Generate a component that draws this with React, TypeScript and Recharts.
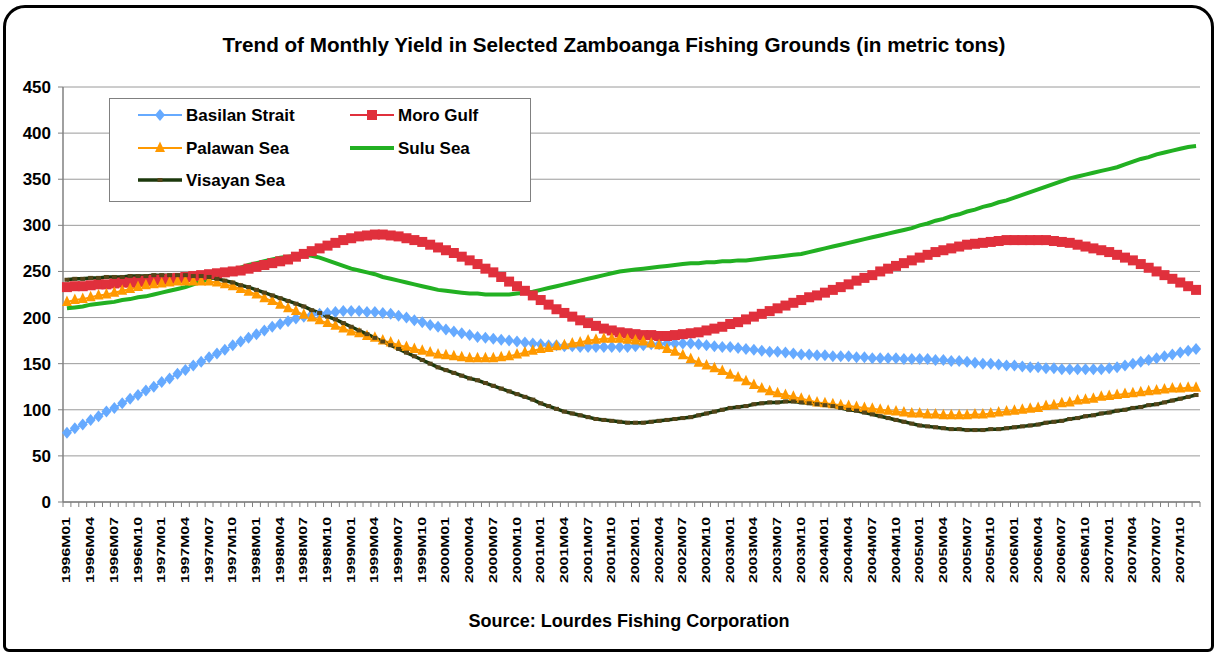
import React from 'react';
import { LineChart, Line, XAxis, YAxis, CartesianGrid } from 'recharts';

const FONT = '"Liberation Sans", Arial, sans-serif';

const years = [1996, 1997, 1998, 1999, 2000, 2001, 2002, 2003, 2004, 2005, 2006, 2007];
const months = ['01', '02', '03', '04', '05', '06', '07', '08', '09', '10', '11', '12'];
const categories = years.flatMap((y) => months.map((m) => `${y}M${m}`));

const yTicks = [0, 50, 100, 150, 200, 250, 300, 350, 400, 450];

// monthly yield, metric tons
const basilanStrait = [
  75, 80, 84, 89, 93, 98, 102, 107, 112, 116, 121, 125,
  130, 134, 139, 143, 148, 152, 157, 161, 165, 170, 174, 178,
  182, 186, 190, 193, 196, 199, 201, 203, 204, 205, 206, 207,
  207, 207, 206, 206, 205, 204, 202, 200, 197, 195, 192, 190,
  187, 185, 183, 181, 179, 178, 177, 176, 175, 174, 173, 172,
  171, 170, 170, 169, 169, 168, 168, 168, 168, 168, 168, 168,
  169, 170, 171, 171, 172, 172, 172, 172, 171, 170, 169, 168,
  168, 167, 166, 165, 164, 163, 163, 162, 161, 160, 160, 159,
  159, 158, 158, 158, 157, 157, 156, 156, 156, 156, 155, 155,
  155, 155, 154, 154, 153, 153, 152, 151, 150, 150, 149, 148,
  148, 147, 146, 146, 145, 145, 144, 144, 144, 144, 144, 144,
  145, 146, 148, 150, 152, 154, 156, 158, 160, 162, 164, 166,
];

const moroGulf = [
  233, 234, 234, 235, 236, 236, 237, 238, 238, 239, 240, 241,
  241, 242, 243, 244, 245, 246, 247, 248, 249, 250, 251, 253,
  255, 257, 259, 261, 263, 266, 269, 272, 275, 278, 281, 284,
  286, 288, 289, 290, 290, 289, 288, 286, 284, 282, 279, 276,
  273, 270, 266, 262, 258, 253, 249, 244, 239, 234, 229, 224,
  219, 214, 209, 205, 201, 197, 194, 191, 188, 186, 184, 183,
  182, 181, 181, 180, 180, 181, 182, 183, 184, 186, 188, 190,
  193, 195, 198, 201, 204, 207, 210, 213, 216, 219, 222, 224,
  227, 230, 233, 236, 240, 243, 246, 250, 253, 256, 259, 262,
  265, 268, 271, 273, 275, 277, 279, 280, 281, 282, 283, 284,
  284, 284, 284, 284, 284, 283, 282, 281, 279, 277, 275, 273,
  271, 268, 265, 262, 258, 254, 250, 246, 242, 238, 234, 230,
];

const palawanSea = [
  217, 219, 220, 222, 224, 225, 227, 229, 231, 233, 235, 236,
  237, 238, 239, 239, 239, 239, 239, 238, 236, 234, 231, 228,
  225, 221, 218, 214, 210, 207, 203, 200, 197, 194, 191, 188,
  185, 183, 180, 178, 175, 173, 170, 168, 166, 164, 162, 160,
  159, 158, 157, 156, 156, 156, 156, 157, 158, 160, 162, 164,
  166, 167, 169, 170, 172, 173, 175, 176, 177, 177, 177, 176,
  175, 174, 172, 170, 166, 163, 159, 155, 151, 148, 145, 142,
  138, 135, 131, 127, 123, 120, 118, 116, 114, 112, 110, 108,
  107, 106, 105, 104, 103, 102, 101, 100, 99, 98, 97, 96,
  96, 95, 95, 94, 94, 94, 94, 95, 95, 96, 97, 98,
  99, 100, 101, 102, 104, 105, 107, 108, 110, 111, 112, 114,
  115, 116, 117, 118, 119, 120, 121, 122, 123, 123, 124, 124,
];

const suluSea = [
  210, 211, 212, 214, 215, 216, 217, 219, 220, 222, 223, 225,
  227, 229, 231, 233, 236, 239, 242, 245, 248, 251, 254, 257,
  259, 261, 263, 265, 266, 267, 268, 267, 265, 262, 259, 256,
  253, 251, 249, 247, 244, 242, 240, 238, 236, 234, 232, 230,
  229, 228, 227, 226, 226, 225, 225, 225, 225, 226, 227, 228,
  230, 232, 234, 236, 238, 240, 242, 244, 246, 248, 250, 251,
  252, 253, 254, 255, 256, 257, 258, 259, 259, 260, 260, 261,
  261, 262, 262, 263, 264, 265, 266, 267, 268, 269, 271, 273,
  275, 277, 279, 281, 283, 285, 287, 289, 291, 293, 295, 297,
  300, 302, 305, 307, 310, 312, 315, 317, 320, 322, 325, 327,
  330, 333, 336, 339, 342, 345, 348, 351, 353, 355, 357, 359,
  361, 363, 366, 369, 372, 374, 377, 379, 381, 383, 385, 386,
];

const visayanSea = [
  241, 242, 242, 243, 243, 244, 244, 244, 245, 245, 245, 246,
  246, 246, 246, 246, 245, 245, 244, 242, 240, 238, 235, 233,
  230, 227, 224, 221, 218, 215, 212, 208, 205, 201, 198, 194,
  190, 186, 182, 178, 174, 170, 166, 162, 158, 154, 150, 146,
  143, 140, 137, 134, 132, 129, 126, 123, 120, 117, 114, 111,
  107, 104, 101, 98, 96, 94, 92, 90, 89, 88, 87, 86,
  86, 86, 87, 88, 89, 90, 91, 92, 94, 96, 98, 100,
  102, 103, 104, 106, 107, 108, 108, 109, 109, 108, 107, 106,
  105, 104, 102, 100, 99, 97, 95, 93, 91, 89, 87, 85,
  83, 82, 81, 80, 79, 79, 78, 78, 78, 79, 79, 80,
  81, 82, 83, 84, 86, 87, 88, 90, 91, 93, 94, 96,
  97, 99, 100, 102, 103, 105, 106, 108, 110, 112, 114, 116,
];

const COLORS = {
  basilan: '#66aaff',
  moro: '#e0303c',
  palawan: '#ff9900',
  sulu: '#22b022',
  visayan: '#1c380c',
  visayanDash: '#55461a',
};

const data = categories.map((month, i) => ({
  month,
  basilan: basilanStrait[i],
  moro: moroGulf[i],
  palawan: palawanSea[i],
  sulu: suluSea[i],
  visayan: visayanSea[i],
}));

const HALF_STEP = 3.95;

const diamond = (cx: number, cy: number, fill: string, key?: string) => (
  <polygon
    key={key}
    points={`${cx},${cy - 6} ${cx + 5},${cy} ${cx},${cy + 6} ${cx - 5},${cy}`}
    fill={fill}
  />
);
const square = (cx: number, cy: number, fill: string, key?: string) => (
  <rect key={key} x={cx - 5} y={cy - 5} width={10} height={10} fill={fill} />
);
const triangle = (cx: number, cy: number, fill: string, key?: string) => (
  <polygon
    key={key}
    points={`${cx},${cy - 6.5} ${cx + 5},${cy + 4} ${cx - 5},${cy + 4}`}
    fill={fill}
  />
);
const dash = (cx: number, cy: number, fill: string, key?: string) => (
  <rect key={key} x={cx - 2.5} y={cy - 2} width={5} height={4} fill={fill} />
);

const MonthTick = (props: any) => {
  const { x, y, payload, index } = props;
  const top = y + 15;
  return (
    <g>
      <line x1={x - HALF_STEP} y1={y} x2={x - HALF_STEP} y2={y + 5} stroke="#808080" />
      {index === categories.length - 1 && (
        <line x1={x + HALF_STEP} y1={y} x2={x + HALF_STEP} y2={y + 5} stroke="#808080" />
      )}
      {index % 3 === 0 && (
        <text
          x={x + 3.5}
          y={top}
          transform={`rotate(-90 ${x + 3.5} ${top})`}
          textAnchor="end"
          textLength={66}
          lengthAdjust="spacingAndGlyphs"
          fontSize={10}
          fontWeight={700}
          fontFamily={FONT}
          fill="#000"
        >
          {payload.value}
        </text>
      )}
    </g>
  );
};

const legendItems = [
  { name: 'Basilan Strait', color: COLORS.basilan, marker: diamond, col: 0, row: 0, width: 2 },
  { name: 'Moro Gulf', color: COLORS.moro, marker: square, col: 1, row: 0, width: 2 },
  { name: 'Palawan Sea', color: COLORS.palawan, marker: triangle, col: 0, row: 1, width: 2 },
  { name: 'Sulu Sea', color: COLORS.sulu, marker: null, col: 1, row: 1, width: 4 },
  { name: 'Visayan Sea', color: COLORS.visayan, marker: dash, col: 0, row: 2, width: 3.5 },
];

function Overlay() {
  const colX = [138, 350];
  const rowY = [115, 148, 180];
  return (
    <svg
      width={1217}
      height={656}
      style={{ position: 'absolute', left: 0, top: 0, pointerEvents: 'none' }}
    >
      <text
        x={614}
        y={52}
        textAnchor="middle"
        fontSize={20}
        fontWeight={700}
        fontFamily={FONT}
        textLength={783}
        lengthAdjust="spacingAndGlyphs"
        fill="#000"
      >
        Trend of Monthly Yield in Selected Zamboanga Fishing Grounds (in metric tons)
      </text>
      <text
        x={629}
        y={627}
        textAnchor="middle"
        fontSize={18}
        fontWeight={700}
        fontFamily={FONT}
        textLength={321}
        lengthAdjust="spacingAndGlyphs"
        fill="#000"
      >
        Source:  Lourdes Fishing Corporation
      </text>
      <rect x={109.5} y={98.5} width={421} height={103} fill="#fff" stroke="#808080" />
      {legendItems.map((it) => {
        const x0 = colX[it.col];
        const y0 = rowY[it.row];
        return (
          <g key={it.name}>
            <line x1={x0} y1={y0} x2={x0 + 44} y2={y0} stroke={it.color} strokeWidth={it.width} />
            {it.marker &&
              it.marker(
                x0 + 22,
                y0,
                it.name === 'Visayan Sea' ? COLORS.visayanDash : it.color,
              )}
            <text
              x={x0 + 48}
              y={y0 + 6}
              fontSize={17}
              fontWeight={700}
              fontFamily={FONT}
              fill="#000"
            >
              {it.name}
            </text>
          </g>
        );
      })}
    </svg>
  );
}

export default function App() {
  return (
    <div style={{ position: 'absolute', left: 0, top: 0, width: 1217, height: 656, background: '#fff' }}>
      <div
        style={{
          position: 'absolute',
          left: 3,
          top: 5,
          width: 1205,
          height: 641,
          border: '3px solid #000',
          borderRadius: '22px 22px 6px 6px',
        }}
      />
      <LineChart
        width={1217}
        height={656}
        data={data}
        margin={{ top: 87, right: 17, bottom: 54, left: 0 }}
      >
        <CartesianGrid vertical={false} stroke="#9a9a9a" />
        <XAxis
          dataKey="month"
          interval={0}
          height={100}
          padding={{ left: HALF_STEP, right: HALF_STEP }}
          tickLine={false}
          tickSize={0}
          tickMargin={0}
          axisLine={{ stroke: '#808080', strokeWidth: 1.5 }}
          tick={<MonthTick />}
        />
        <YAxis
          width={63}
          domain={[0, 450]}
          ticks={yTicks}
          interval={0}
          tickSize={5}
          tickMargin={7}
          tickLine={{ stroke: '#808080' }}
          axisLine={{ stroke: '#808080', strokeWidth: 1.5 }}
          tick={{ fill: '#000', fontSize: 17, fontWeight: 700, fontFamily: FONT }}
        />
        <YAxis
          yAxisId="right"
          orientation="right"
          width={0}
          domain={[0, 450]}
          tick={false}
          tickLine={false}
          axisLine={{ stroke: '#9a9a9a' }}
        />
        <Line
          dataKey="basilan"
          name="Basilan Strait"
          type="linear"
          stroke={COLORS.basilan}
          strokeWidth={2}
          isAnimationActive={false}
          dot={(p: any) => diamond(p.cx, p.cy, COLORS.basilan, `b${p.index}`)}
        />
        <Line
          dataKey="moro"
          name="Moro Gulf"
          type="linear"
          stroke={COLORS.moro}
          strokeWidth={2}
          isAnimationActive={false}
          dot={(p: any) => square(p.cx, p.cy, COLORS.moro, `m${p.index}`)}
        />
        <Line
          dataKey="palawan"
          name="Palawan Sea"
          type="linear"
          stroke={COLORS.palawan}
          strokeWidth={2}
          isAnimationActive={false}
          dot={(p: any) => triangle(p.cx, p.cy, COLORS.palawan, `p${p.index}`)}
        />
        <Line
          dataKey="sulu"
          name="Sulu Sea"
          type="linear"
          stroke={COLORS.sulu}
          strokeWidth={4}
          isAnimationActive={false}
          dot={false}
        />
        <Line
          dataKey="visayan"
          name="Visayan Sea"
          type="linear"
          stroke={COLORS.visayan}
          strokeWidth={3.5}
          isAnimationActive={false}
          dot={(p: any) => dash(p.cx, p.cy, COLORS.visayanDash, `v${p.index}`)}
        />
      </LineChart>
      <Overlay />
    </div>
  );
}
